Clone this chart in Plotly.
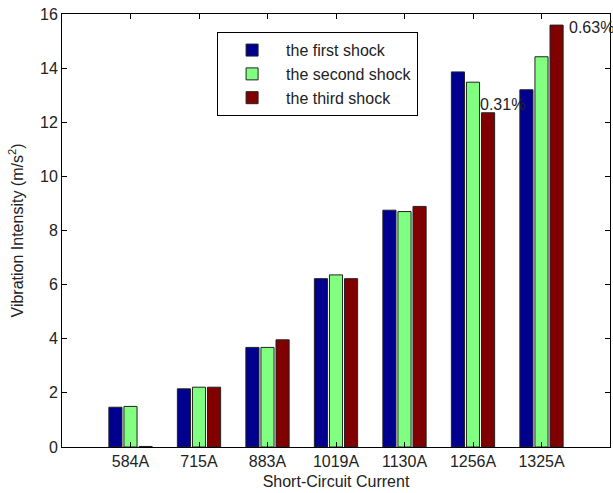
import plotly.graph_objects as go

categories = ["584A", "715A", "883A", "1019A", "1130A", "1256A", "1325A"]
positions = [1, 2, 3, 4, 5, 6, 7]
first_shock = [1.47, 2.15, 3.68, 6.22, 8.75, 13.86, 13.20]
second_shock = [1.50, 2.21, 3.68, 6.36, 8.70, 13.48, 14.42]
third_shock = [0.02, 2.21, 3.96, 6.22, 8.89, 12.35, 15.59]
series_names = ["the first shock", "the second shock", "the third shock"]
series_colors = ["#00008F", "#80FF80", "#800000"]
notes = [(6.13, 12.64, "0.31%"), (7.43, 15.5, "0.63%")]

font = "Liberation Sans, Arial, sans-serif"
fig = go.Figure()
for name, vals, col in zip(series_names, [first_shock, second_shock, third_shock], series_colors):
    fig.add_trace(go.Bar(
        x=positions, y=vals, name=name,
        marker=dict(color=col, line=dict(color="#222222", width=1)),
    ))

for xv, yv, txt in notes:
    fig.add_annotation(x=xv, y=yv, xref="x", yref="y", text=txt, showarrow=False,
                       xanchor="left", yanchor="middle", xshift=-4,
                       font=dict(size=16, color="#222222", family=font))

fig.update_layout(
    width=613, height=493,
    margin=dict(l=62, r=3, t=14, b=46, autoexpand=False),
    paper_bgcolor="white", plot_bgcolor="white",
    barmode="group", bargap=0.34, bargroupgap=0.13,
    font=dict(family=font, size=16, color="#222222"),
    showlegend=True,
    legend=dict(x=0.283, y=0.958, xanchor="left", yanchor="top",
                bgcolor="white", bordercolor="black", borderwidth=1,
                font=dict(size=16, family=font), tracegroupgap=0,
                itemwidth=58),
)
fig.update_xaxes(
    range=[0, 8], tickvals=positions, ticktext=categories,
    showline=True, linecolor="black", linewidth=1, mirror="ticks",
    ticks="inside", ticklen=5, tickcolor="black", showgrid=False, zeroline=False,
    title=dict(text="Short-Circuit Current", font=dict(size=16), standoff=6),
    tickfont=dict(size=16), automargin=True, ticklabeloverflow="allow",
)
fig.update_yaxes(
    range=[0, 16], tickvals=[0, 2, 4, 6, 8, 10, 12, 14, 16],
    showline=True, linecolor="black", linewidth=1, mirror="ticks",
    ticks="inside", ticklen=5, tickcolor="black", showgrid=False, zeroline=False,
    title=dict(text="Vibration Intensity (m/s<sup>2</sup>)", font=dict(size=16), standoff=12),
    tickfont=dict(size=16), automargin=True, ticklabeloverflow="allow",
)
fig.write_html("out.html", config={"displayModeBar": False},
               post_script="document.body.style.margin='0';document.body.style.overflow='hidden';")
